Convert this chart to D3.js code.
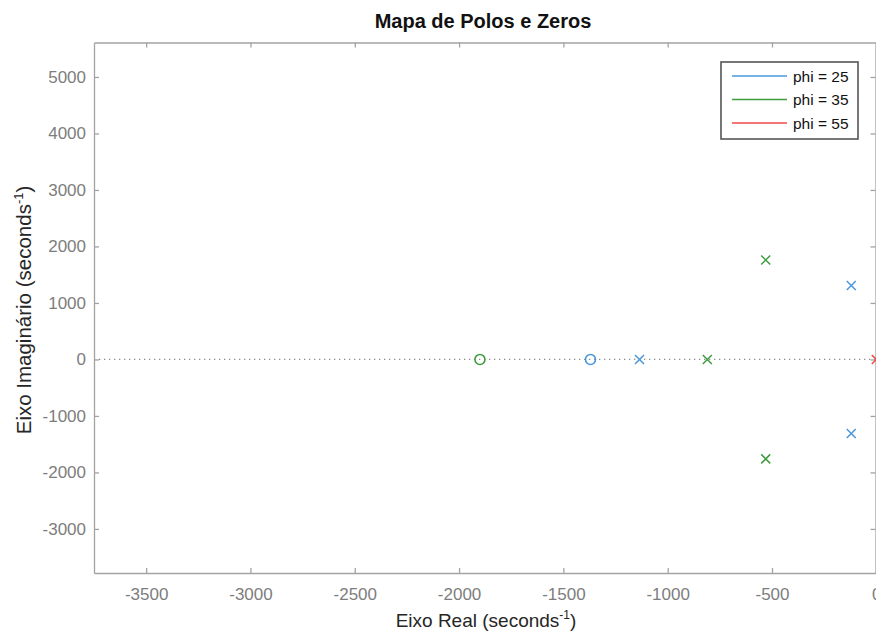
<!DOCTYPE html>
<html>
<head>
<meta charset="utf-8">
<script src="https://cdn.jsdelivr.net/npm/d3@7"></script>
<style>
  html, body { margin: 0; padding: 0; background: #ffffff; }
  svg { display: block; font-family: "Liberation Sans", Arial, Helvetica, sans-serif; }
</style>
</head>
<body>
<svg id="chart" width="876" height="634"></svg>
<script>
// Pole/zero locations (real, imaginary) for each value of phi
const seriesNames = ["phi = 25", "phi = 35", "phi = 55"];
const seriesColors = ["#4a98dc", "#3f9c3f", "#f04848"];
const poles25 = [[-1135, 0], [-120, 1310], [-120, -1310]];
const zeros25 = [[-1370, 0]];
const poles35 = [[-810, 0], [-530, 1760], [-530, -1760]];
const zeros35 = [[-1900, 0]];
const poles55 = [[0, 0]];
const zeros55 = [];
const xTicks = [-3500, -3000, -2500, -2000, -1500, -1000, -500, 0];
const yTicks = [-3000, -2000, -1000, 0, 1000, 2000, 3000, 4000, 5000];
const xDomain = [-3750, 0];
const yDomain = [-3780, 5610];

const series = [
  { name: seriesNames[0], color: seriesColors[0], poles: poles25, zeros: zeros25 },
  { name: seriesNames[1], color: seriesColors[1], poles: poles35, zeros: zeros35 },
  { name: seriesNames[2], color: seriesColors[2], poles: poles55, zeros: zeros55 }
];

const svg = d3.select("#chart");
const box = { left: 94, right: 876.3, top: 42.5, bottom: 573 };

const x = d3.scaleLinear().domain(xDomain).range([box.left, box.right]);
const y = d3.scaleLinear().domain(yDomain).range([box.bottom, box.top]);

const axisColor = "#a3a3a3";
const tickTextColor = "#7d7d7d";
const plainNumber = d => String(d);

// Plot area background
svg.append("rect")
  .attr("x", box.left).attr("y", box.top)
  .attr("width", box.right - box.left).attr("height", box.bottom - box.top)
  .attr("fill", "#ffffff");

// Dotted line along the real axis
svg.append("line")
  .attr("x1", box.left).attr("x2", box.right)
  .attr("y1", y(0)).attr("y2", y(0))
  .attr("stroke", "#8c8c8c").attr("stroke-width", 1.2)
  .attr("stroke-dasharray", "1.3,3.7");

function styleAxis(g, showLabels) {
  g.selectAll(".domain").attr("stroke", axisColor).attr("stroke-width", 1.3);
  g.selectAll(".tick line").attr("stroke", axisColor).attr("stroke-width", 1.3);
  g.selectAll(".tick text")
    .attr("fill", tickTextColor)
    .style("font-size", "17px")
    .style("display", showLabels ? null : "none");
}

// Bottom and left axes with labels, inward ticks
svg.append("g")
  .attr("transform", `translate(0,${box.bottom})`)
  .call(d3.axisBottom(x).tickValues(xTicks).tickSizeInner(-5).tickSizeOuter(0).tickPadding(15).tickFormat(plainNumber))
  .call(g => styleAxis(g, true));

svg.append("g")
  .attr("transform", `translate(${box.left},0)`)
  .call(d3.axisLeft(y).tickValues(yTicks).tickSizeInner(-5).tickSizeOuter(0).tickPadding(8).tickFormat(plainNumber))
  .call(g => styleAxis(g, true));

// Top and right box edges with ticks
svg.append("g")
  .attr("transform", `translate(0,${box.top})`)
  .call(d3.axisTop(x).tickValues(xTicks).tickSizeInner(-5).tickSizeOuter(0))
  .call(g => styleAxis(g, false));

svg.append("g")
  .attr("transform", `translate(${box.right - 0.8},0)`)
  .call(d3.axisRight(y).tickValues(yTicks).tickSizeInner(-5).tickSizeOuter(0))
  .call(g => styleAxis(g, false));

// Markers: x for poles, o for zeros
const marks = svg.append("g");
const half = 4.5;
series.forEach(s => {
  s.poles.forEach(p => {
    const cx = x(p[0]), cy = y(p[1]);
    marks.append("path")
      .attr("d", `M${cx - half},${cy - half}L${cx + half},${cy + half}M${cx - half},${cy + half}L${cx + half},${cy - half}`)
      .attr("stroke", s.color).attr("stroke-width", 1.5).attr("fill", "none");
  });
  s.zeros.forEach(z => {
    marks.append("circle")
      .attr("cx", x(z[0])).attr("cy", y(z[1])).attr("r", 5)
      .attr("stroke", s.color).attr("stroke-width", 1.6).attr("fill", "none");
  });
});

// Title
svg.append("text")
  .attr("x", 483).attr("y", 28)
  .attr("text-anchor", "middle")
  .style("font-size", "20px").style("font-weight", "bold").attr("fill", "#111")
  .text("Mapa de Polos e Zeros");

// X axis label with superscript
const xl = svg.append("text")
  .attr("x", 486).attr("y", 627)
  .attr("text-anchor", "middle")
  .style("font-size", "19px").attr("fill", "#262626");
xl.append("tspan").text("Eixo Real (seconds");
xl.append("tspan").attr("dy", -8).style("font-size", "12px").text("-1");
xl.append("tspan").attr("dy", 8).text(")");

// Y axis label with superscript
const yl = svg.append("text")
  .attr("transform", `translate(31,310) rotate(-90)`)
  .attr("text-anchor", "middle")
  .style("font-size", "20.5px").attr("fill", "#262626");
yl.append("tspan").text("Eixo Imaginário (seconds");
yl.append("tspan").attr("dy", -8.5).style("font-size", "13px").text("-1");
yl.append("tspan").attr("dy", 8.5).text(")");

// Legend
const legend = svg.append("g");
legend.append("rect")
  .attr("x", 721).attr("y", 62).attr("width", 137).attr("height", 77)
  .attr("fill", "#ffffff").attr("stroke", "#555555").attr("stroke-width", 1.6);
series.forEach((s, i) => {
  const ly = 76 + i * 23.5;
  legend.append("line")
    .attr("x1", 732).attr("x2", 787).attr("y1", ly).attr("y2", ly)
    .attr("stroke", s.color).attr("stroke-width", 1.4);
  legend.append("text")
    .attr("x", 793).attr("y", ly + 5.5)
    .style("font-size", "15.5px").attr("fill", "#111")
    .text(s.name);
});
</script>
</body>
</html>
